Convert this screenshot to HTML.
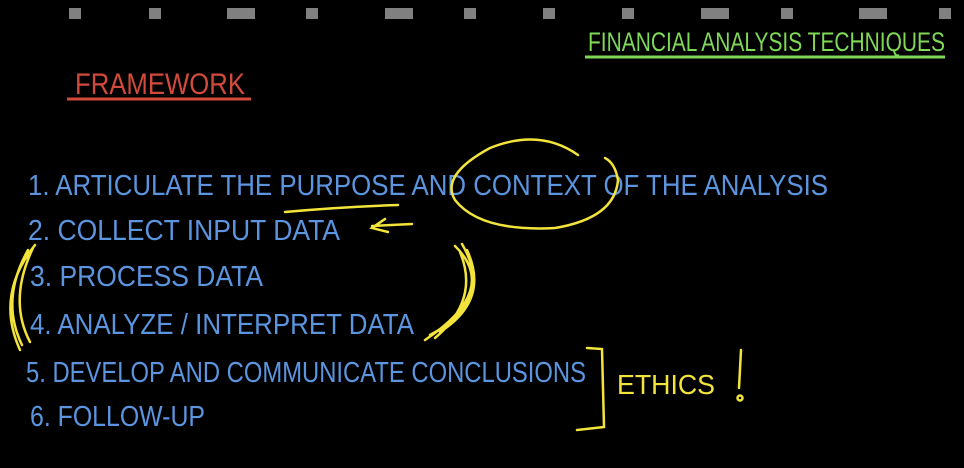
<!DOCTYPE html>
<html><head><meta charset="utf-8"><style>
html,body{margin:0;padding:0;background:#000;}
svg{display:block}
text{font-family:"Liberation Sans Narrow","Liberation Sans",sans-serif;}
</style></head><body>
<svg width="964" height="468" viewBox="0 0 964 468" xmlns="http://www.w3.org/2000/svg">
<rect width="964" height="468" fill="#000"/>
<g fill="#808080">
<rect x="69" y="8" width="12" height="11"/><rect x="149" y="8" width="12" height="11"/>
<rect x="227" y="8" width="28" height="11"/><rect x="306" y="8" width="12" height="11"/>
<rect x="385" y="8" width="28" height="11"/><rect x="464" y="8" width="12" height="11"/>
<rect x="543" y="8" width="12" height="11"/><rect x="622" y="8" width="12" height="11"/>
<rect x="701" y="8" width="28" height="11"/><rect x="781" y="8" width="12" height="11"/>
<rect x="859" y="8" width="28" height="11"/><rect x="939" y="8" width="12" height="11"/>
</g>
<text x="588" y="51" font-size="27" fill="#7ed957" textLength="357" lengthAdjust="spacingAndGlyphs">FINANCIAL ANALYSIS TECHNIQUES</text>
<line x1="585" y1="57" x2="945" y2="57" stroke="#7ed957" stroke-width="3"/>
<text x="75" y="94" font-size="30" fill="#d24a3c" textLength="170" lengthAdjust="spacingAndGlyphs">FRAMEWORK</text>
<line x1="67" y1="99" x2="251" y2="99" stroke="#d24a3c" stroke-width="3"/>
<g fill="#5b95e0" font-size="29">
<text x="28" y="195" textLength="800" lengthAdjust="spacingAndGlyphs">1.  ARTICULATE THE  PURPOSE AND  CONTEXT OF  THE ANALYSIS</text>
<text x="28" y="240" textLength="312" lengthAdjust="spacingAndGlyphs">2.  COLLECT  INPUT  DATA</text>
<text x="30" y="286" textLength="233" lengthAdjust="spacingAndGlyphs">3.  PROCESS  DATA</text>
<text x="30" y="334" textLength="384" lengthAdjust="spacingAndGlyphs">4.  ANALYZE / INTERPRET  DATA</text>
<text x="26" y="382" textLength="560" lengthAdjust="spacingAndGlyphs">5.  DEVELOP  AND  COMMUNICATE  CONCLUSIONS</text>
<text x="30" y="426" textLength="175" lengthAdjust="spacingAndGlyphs">6.  FOLLOW-UP</text>
</g>
<g stroke="#f2e43a" stroke-width="2.5" fill="none" stroke-linecap="round">
<path d="M285 212 Q340 207 398 205"/>
<path d="M578 155 Q540 128 490 148 Q440 175 455 200 Q480 232 555 228 Q615 218 618 180 Q615 163 605 158"/>
<path d="M412 224 L372 226 M385 219 L372 228 L388 232"/>
<path d="M35 245 Q-5 295 20 350 M28 250 Q0 300 22 345 M33 248 Q8 300 30 342"/>
<path d="M455 246 Q500 290 425 340 M462 244 Q495 300 430 335 M467 250 Q490 300 440 332 M460 252 Q480 300 435 338"/>
<path d="M587 348 L602 349 L604 427 L577 430"/>
<path d="M741 350 L739 388"/>
<circle cx="740" cy="398" r="2.5"/>
</g>
<text x="617" y="394" font-size="28" fill="#f2e43a" textLength="98" lengthAdjust="spacingAndGlyphs">ETHICS</text>
</svg>
</body></html>
